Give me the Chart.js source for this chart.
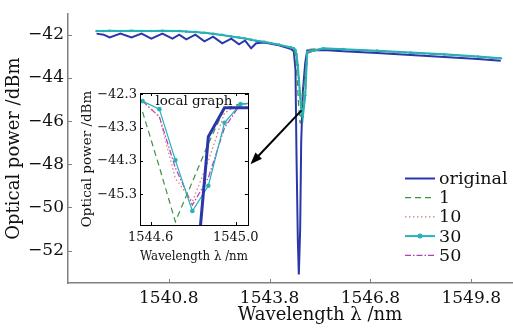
<!DOCTYPE html>
<html>
<head>
<meta charset="utf-8">
<script src="https://cdn.jsdelivr.net/npm/chart.js@4.4.1/dist/chart.umd.min.js"></script>
<style>
  html, body { margin: 0; padding: 0; background: #fff; }
  #wrap { position: relative; width: 513px; height: 331px; overflow: hidden; }
  #mainChart { position: absolute; left: 0; top: 0; }
  #localChart { position: absolute; left: 75px; top: 80px; }
</style>
</head>
<body>
<div id="wrap">
  <canvas id="mainChart" width="576" height="331"></canvas>
  <canvas id="localChart" width="190" height="190"></canvas>
</div>
<script>
// full spectrum (nm / dBm)
const wavelength = [1538.65, 1538.86, 1539.04, 1539.36, 1539.69, 1539.99, 1540.28, 1540.61, 1540.91, 1541.11,
  1541.32, 1541.59, 1541.86, 1542.12, 1542.39, 1542.66, 1542.89, 1543.07, 1543.25, 1543.40,
  1543.64, 1544.08, 1544.44, 1544.52, 1544.57, 1544.60, 1544.64, 1544.67, 1544.71, 1544.74,
  1544.79, 1544.86, 1544.92, 1545.4, 1546.0, 1547.0, 1548.0, 1549.0, 1550.0, 1550.68];
const original = [-41.94, -41.99, -42.12, -41.94, -42.12, -41.94, -42.17, -41.94, -42.17, -41.99,
  -42.21, -41.99, -42.30, -42.08, -42.39, -42.17, -42.44, -42.26, -42.62, -42.39,
  -42.35, -42.48, -42.66, -42.75, -43.60, -47.50, -51.50, -53.10, -51.00, -47.00,
  -44.60, -43.30, -42.72, -42.70, -42.76, -42.84, -42.93, -43.02, -43.12, -43.20];
const filt1 = [-41.83, -41.83, -41.82, -41.83, -41.82, -41.83, -41.83, -41.82, -41.83, -41.83,
  -41.85, -41.87, -41.91, -41.96, -42.01, -42.08, -42.13, -42.18, -42.23, -42.28,
  -42.33, -42.46, -42.60, -42.66, -43.00, -43.60, -44.60, -45.40, -46.10, -45.60,
  -44.90, -43.70, -42.68, -42.63, -42.67, -42.74, -42.83, -42.91, -43.01, -43.09];
const filt10 = [-41.83, -41.83, -41.82, -41.83, -41.82, -41.83, -41.83, -41.82, -41.83, -41.83,
  -41.85, -41.87, -41.91, -41.96, -42.01, -42.08, -42.13, -42.18, -42.23, -42.28,
  -42.33, -42.46, -42.59, -42.62, -42.70, -43.00, -43.60, -44.30, -45.00, -45.40,
  -45.50, -44.50, -42.72, -42.63, -42.67, -42.74, -42.83, -42.91, -43.01, -43.09];
const filt30 = [-41.82, -41.82, -41.81, -41.82, -41.81, -41.82, -41.82, -41.81, -41.82, -41.82,
  -41.84, -41.86, -41.90, -41.95, -42.00, -42.07, -42.12, -42.17, -42.22, -42.27,
  -42.32, -42.45, -42.58, -42.62, -42.70, -42.90, -43.40, -44.00, -44.80, -45.40,
  -45.80, -44.80, -42.80, -42.62, -42.66, -42.73, -42.82, -42.90, -43.00, -43.08];
const filt50 = [-41.83, -41.83, -41.82, -41.83, -41.82, -41.83, -41.83, -41.82, -41.83, -41.83,
  -41.85, -41.87, -41.91, -41.96, -42.01, -42.08, -42.13, -42.18, -42.23, -42.28,
  -42.33, -42.46, -42.59, -42.62, -42.70, -42.95, -43.50, -44.10, -44.80, -45.30,
  -45.60, -44.90, -42.85, -42.63, -42.67, -42.74, -42.83, -42.91, -43.01, -43.09];
const xTicks = [1540.8, 1543.8, 1546.8, 1549.8];
const yTicks = [-52, -50, -48, -46, -44, -42];

// local graph around the dip
const localWavelength = [1544.562, 1544.641, 1544.716, 1544.796, 1544.871, 1544.947, 1545.022, 1545.097];
const localOriginal = [-53.0, -53.0, -53.0, -49.0, -43.57, -42.70, -42.70, -42.70];
const local1 = [-42.82, -44.48, -46.12, -44.92, -43.78, -42.72, -42.58, -42.55];
const local10 = [-42.50, -42.97, -44.82, -45.52, -44.30, -42.85, -42.59, -42.55];
const local30 = [-42.50, -42.74, -44.27, -45.80, -45.04, -43.15, -42.59, -42.55];
const local50 = [-42.50, -42.97, -44.50, -45.62, -44.80, -43.30, -42.59, -42.55];
const localXTicks = [1544.6, 1545.0];
const localYTicks = [-45.3, -44.3, -43.3, -42.3];

Chart.defaults.font.family = 'DejaVu Serif';
Chart.defaults.color = '#111';

const pts = (xs, ys) => xs.map((x, i) => ({ x: x, y: ys[i] }));
const minus = s => s.replace('-', '\u2212');

const styles = [
  { label: 'original', color: '#2a37a8', dash: [], main: 2, local: 3, dot: 0, order: 5 },
  { label: '1', color: '#3f8f45', dash: [6, 4], main: 1.3, local: 1.2, dot: 0, order: 2 },
  { label: '10', color: '#e27272', dash: [1.5, 2.5], main: 1.3, local: 1.2, dot: 0, order: 3 },
  { label: '30', color: '#25b2b8', dash: [], main: 2, local: 1.2, dot: 2.3, order: 1 },
  { label: '50', color: '#b43cbf', dash: [6, 2, 1.5, 2], main: 1.3, local: 1.2, dot: 0, order: 4 }
];

const mainSeries = [original, filt1, filt10, filt30, filt50];
const localSeries = [localOriginal, local1, local10, local30, local50];

const mainDecor = {
  id: 'mainDecor',
  afterDraw(chart) {
    const { ctx, chartArea: a, scales: { x, y } } = chart;
    ctx.save();
    // inward tick marks
    ctx.strokeStyle = '#808080';
    ctx.lineWidth = 1;
    xTicks.forEach(v => {
      const px = Math.round(x.getPixelForValue(v)) + 0.5;
      ctx.beginPath(); ctx.moveTo(px, a.bottom); ctx.lineTo(px, a.bottom - 4); ctx.stroke();
    });
    yTicks.forEach(v => {
      const py = Math.round(y.getPixelForValue(v)) + 0.5;
      ctx.beginPath(); ctx.moveTo(a.left, py); ctx.lineTo(a.left + 4, py); ctx.stroke();
    });

    // arrow from the dip to the local graph
    const x0 = x.getPixelForValue(1544.75), y0 = y.getPixelForValue(-45.5);
    const x1 = x.getPixelForValue(1543.23), y1 = y.getPixelForValue(-48.0);
    const ang = Math.atan2(y1 - y0, x1 - x0);
    ctx.strokeStyle = '#000';
    ctx.fillStyle = '#000';
    ctx.lineWidth = 2;
    ctx.beginPath();
    ctx.moveTo(x0, y0);
    ctx.lineTo(x1 - 8 * Math.cos(ang), y1 - 8 * Math.sin(ang));
    ctx.stroke();
    ctx.beginPath();
    ctx.moveTo(x1, y1);
    ctx.lineTo(x1 - 12 * Math.cos(ang) + 4.5 * Math.sin(ang), y1 - 12 * Math.sin(ang) - 4.5 * Math.cos(ang));
    ctx.lineTo(x1 - 12 * Math.cos(ang) - 4.5 * Math.sin(ang), y1 - 12 * Math.sin(ang) + 4.5 * Math.cos(ang));
    ctx.closePath();
    ctx.fill();

    // legend
    ctx.font = '17.5px "DejaVu Serif"';
    ctx.textBaseline = 'middle';
    ctx.textAlign = 'left';
    styles.forEach((s, i) => {
      const ly = 178.5 + i * 19.2;
      ctx.strokeStyle = s.color;
      ctx.lineWidth = Math.min(s.main, 2);
      ctx.setLineDash(s.dash);
      ctx.beginPath(); ctx.moveTo(405, ly); ctx.lineTo(435, ly); ctx.stroke();
      ctx.setLineDash([]);
      if (s.dot) {
        ctx.fillStyle = s.color;
        ctx.beginPath(); ctx.arc(420, ly, 2.5, 0, Math.PI * 2); ctx.fill();
      }
      ctx.fillStyle = '#111';
      ctx.fillText(s.label, 439, ly + 1);
    });
    ctx.restore();
  }
};

new Chart(document.getElementById('mainChart'), {
  type: 'line',
  data: {
    datasets: styles.map((s, i) => ({
      label: s.label,
      data: pts(wavelength, mainSeries[i]),
      borderColor: s.color,
      backgroundColor: s.color,
      borderWidth: s.main,
      borderDash: s.dash,
      pointRadius: s.dot ? 1.3 : 0,
      pointBorderWidth: 0,
      tension: 0,
      order: s.order
    }))
  },
  options: {
    responsive: false,
    animation: false,
    devicePixelRatio: 1,
    layout: { padding: { top: 7, right: 2, left: 0, bottom: 0 } },
    plugins: { legend: { display: false }, tooltip: { enabled: false } },
    scales: {
      x: {
        type: 'linear',
        min: 1537.8,
        max: 1552.8,
        afterBuildTicks: s => { s.ticks = xTicks.map(v => ({ value: v })); },
        afterFit: s => { s.height = 48; },
        grid: { display: false, drawTicks: false },
        border: { display: true, color: '#808080', width: 1.5 },
        ticks: { padding: 5, maxRotation: 0, font: { size: 17 }, callback: v => v.toFixed(1) },
        title: { display: true, text: 'Wavelength λ /nm', font: { size: 18 }, padding: { top: 0, bottom: 5 } }
      },
      y: {
        type: 'linear',
        min: -53.5,
        max: -41.04,
        afterBuildTicks: s => { s.ticks = yTicks.map(v => ({ value: v })); },
        afterFit: s => { s.width = 68; },
        grid: { display: false, drawTicks: false },
        border: { display: true, color: '#808080', width: 1.5 },
        ticks: { padding: 4, font: { size: 17 }, callback: v => minus(String(v)) },
        title: { display: true, text: 'Optical power /dBm', font: { size: 18 }, padding: { top: 4, bottom: 0 } }
      }
    }
  },
  plugins: [mainDecor]
});

const localDecor = {
  id: 'localDecor',
  afterDraw(chart) {
    const { ctx, chartArea: a, scales: { x, y } } = chart;
    ctx.save();
    ctx.strokeStyle = '#000';
    ctx.lineWidth = 1;
    ctx.strokeRect(Math.round(a.left) + 0.5, Math.round(a.top) + 0.5,
      Math.round(a.right - a.left), Math.round(a.bottom - a.top));
    localXTicks.forEach(v => {
      const px = Math.round(x.getPixelForValue(v)) + 0.5;
      ctx.beginPath();
      ctx.moveTo(px, a.bottom); ctx.lineTo(px, a.bottom - 3);
      ctx.moveTo(px, a.top); ctx.lineTo(px, a.top + 3);
      ctx.stroke();
    });
    localYTicks.forEach(v => {
      const py = Math.round(y.getPixelForValue(v)) + 0.5;
      ctx.beginPath();
      ctx.moveTo(a.left, py); ctx.lineTo(a.left + 3, py);
      ctx.moveTo(a.right, py); ctx.lineTo(a.right - 3, py);
      ctx.stroke();
    });
    ctx.font = '13.5px "DejaVu Serif"';
    ctx.fillStyle = '#111';
    ctx.textAlign = 'center';
    ctx.textBaseline = 'middle';
    ctx.fillText('local graph', (a.left + a.right) / 2, a.top + 8);
    ctx.restore();
  }
};

new Chart(document.getElementById('localChart'), {
  type: 'line',
  data: {
    datasets: styles.map((s, i) => ({
      label: s.label,
      data: pts(localWavelength, localSeries[i]),
      borderColor: s.color,
      backgroundColor: s.color,
      borderWidth: s.local,
      borderDash: s.dash,
      pointRadius: s.dot,
      pointBorderWidth: 0,
      tension: 0,
      clip: 0,
      order: i === 0 ? 0 : s.order
    }))
  },
  options: {
    responsive: false,
    animation: false,
    devicePixelRatio: 1,
    layout: { padding: { top: 13, right: 13, left: 0, bottom: 0 } },
    plugins: { legend: { display: false }, tooltip: { enabled: false } },
    scales: {
      x: {
        type: 'linear',
        min: 1544.55,
        max: 1545.057,
        afterBuildTicks: s => { s.ticks = localXTicks.map(v => ({ value: v })); },
        afterFit: s => { s.height = 45; },
        grid: { display: false, drawTicks: false },
        border: { display: false },
        ticks: { padding: 5, maxRotation: 0, font: { size: 13 }, callback: v => v.toFixed(1) },
        title: { display: true, text: 'Wavelength λ /nm', font: { size: 13.5 }, padding: { top: 0, bottom: 5 } }
      },
      y: {
        type: 'linear',
        min: -46.22,
        max: -42.255,
        afterBuildTicks: s => { s.ticks = localYTicks.map(v => ({ value: v })); },
        afterFit: s => { s.width = 65; },
        grid: { display: false, drawTicks: false },
        border: { display: false },
        ticks: { padding: 3, font: { size: 13 }, callback: v => minus(v.toFixed(1)) },
        title: { display: true, text: 'Optical power /dBm', font: { size: 13.5 }, padding: { top: 4, bottom: 0 } }
      }
    }
  },
  plugins: [localDecor]
});
</script>
</body>
</html>
